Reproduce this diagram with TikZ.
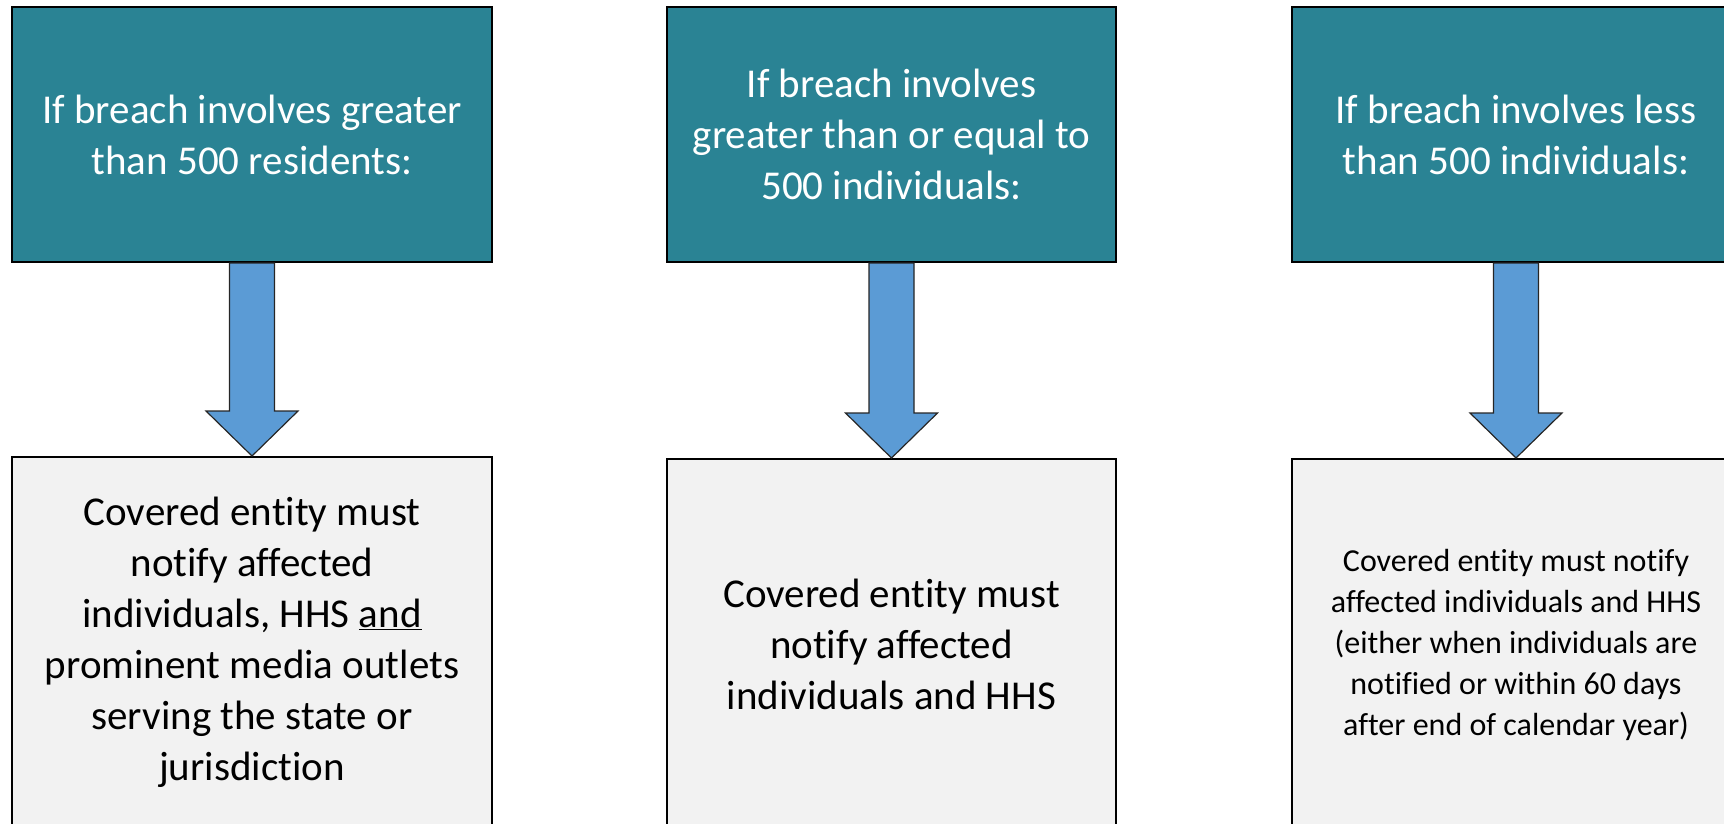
\documentclass[tikz,border=0pt]{standalone}
\usepackage{fontspec}
\setmainfont{Carlito}[Ligatures=NoCommon]
\usetikzlibrary{positioning,calc}

\definecolor{headteal}{HTML}{2A8394}
\definecolor{arrowblue}{HTML}{5B9BD5}
\definecolor{notegray}{HTML}{F2F2F2}

% block arrow from the bottom of one box to the top of the next
\newcommand\flowarrow[2]{%
  \draw[flow] let \p1=(#1.south), \p2=(#2.north) in
    (\x1-22.5pt,\y1) -- (\x1-22.5pt,\y2+45pt) -- (\x1-46pt,\y2+45pt) -- (\x1,\y2)
    -- (\x1+46pt,\y2+45pt) -- (\x1+22.5pt,\y2+45pt) -- (\x1+22.5pt,\y1) -- cycle;}

\begin{document}
\begin{tikzpicture}[
  x=1pt,y=-1pt,
  cond/.style={draw,line width=2pt,fill=headteal,text=white,minimum height=255pt,
    align=center,inner sep=0pt,font=\fontsize{41}{51}\selectfont},
  rule/.style={draw,line width=1.5pt,fill=notegray,minimum height=372pt,
    align=center,inner sep=0pt,font=\fontsize{41}{51}\selectfont},
  flow/.style={draw=black!85,line width=1.2pt,fill=arrowblue}
]
  \clip (0,0) rectangle (1724,823);

  \node[cond,minimum width=480pt] (t1) at (252,134.5)
    {If breach involves greater\\than 500 residents:};
  \node[cond,minimum width=449pt,right=173pt of t1] (t2)
    {If breach involves\\greater than or equal to\\500 individuals:};
  \node[cond,minimum width=448pt,right=174pt of t2] (t3)
    {If breach involves less\\than 500 individuals:};

  \node[rule,minimum width=480pt,below=193pt of t1] (b1)
    {Covered entity must\\notify affected\\individuals, HHS \underline{and}\\prominent media outlets\\serving the state or\\jurisdiction};
  \node[rule,minimum width=449pt,below=195pt of t2] (b2)
    {Covered entity must\\notify affected\\individuals and HHS};
  \node[rule,minimum width=448pt,below=195pt of t3,font=\fontsize{32}{41}\selectfont] (b3)
    {Covered entity must notify\\affected individuals and HHS\\(either when individuals are\\notified or within 60 days\\after end of calendar year)};

  \flowarrow{t1}{b1}
  \flowarrow{t2}{b2}
  \flowarrow{t3}{b3}
\end{tikzpicture}
\end{document}
